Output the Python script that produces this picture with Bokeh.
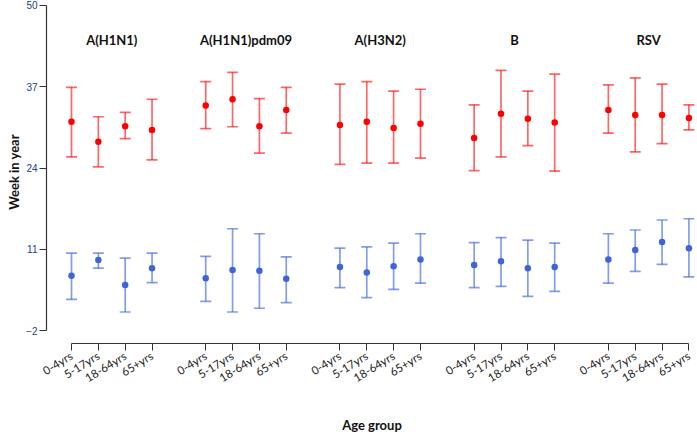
import numpy as np
from bokeh.plotting import figure
from bokeh.models import ColumnDataSource, Whisker, TeeHead, FixedTicker, Range1d
from bokeh.core.properties import value
from bokeh.embed import file_html
from bokeh.resources import INLINE

groups = ["A(H1N1)", "A(H1N1)pdm09", "A(H3N2)", "B", "RSV"]
ages = ["0-4yrs", "5-17yrs", "18-64yrs", "65+yrs"]
y_ticks = [-2, 11, 24, 37, 50]

# red series (upper cluster): estimate, lower and upper bound, per group x age
red_mid = [31.4, 28.2, 30.7, 30.1,
           34.0, 35.0, 30.7, 33.3,
           30.9, 31.4, 30.4, 31.1,
           28.8, 32.7, 31.9, 31.3,
           33.3, 32.5, 32.5, 32.0]
red_low = [25.8, 24.2, 28.7, 25.3,
           30.3, 30.6, 26.4, 29.6,
           24.6, 24.8, 24.8, 25.6,
           23.6, 25.8, 27.6, 23.5,
           29.6, 26.6, 27.9, 30.1]
red_high = [36.9, 32.2, 32.9, 35.0,
            37.8, 39.3, 35.1, 36.9,
            37.4, 37.8, 36.3, 36.6,
            34.1, 39.6, 36.3, 39.0,
            37.3, 38.4, 37.4, 34.1]

# blue series (lower cluster)
blue_mid = [6.8, 9.3, 5.3, 8.0,
            6.4, 7.7, 7.6, 6.3,
            8.2, 7.3, 8.3, 9.4,
            8.5, 9.1, 8.0, 8.2,
            9.4, 10.9, 12.2, 11.2]
blue_low = [3.0, 8.0, 1.0, 5.7,
            2.7, 1.0, 1.6, 2.5,
            4.9, 3.3, 4.6, 5.6,
            4.9, 5.1, 3.5, 4.3,
            5.6, 7.5, 8.6, 6.6]
blue_high = [10.4, 10.4, 9.6, 10.4,
             9.9, 14.3, 13.5, 9.8,
             11.2, 11.4, 12.0, 13.5,
             12.1, 12.9, 12.5, 12.0,
             13.5, 14.1, 15.7, 15.9]

# x positions: four ages per group, one empty slot between groups
na = len(ages)
xs = [gi * (na + 1) + ai + 1 for gi in range(len(groups)) for ai in range(na)]
xlabels = [ages[ai] for gi in range(len(groups)) for ai in range(na)]
gcenters = [float(np.mean(xs[gi * na:(gi + 1) * na])) for gi in range(len(groups))]

p = figure(width=697, height=435, output_backend="svg", toolbar_location=None,
           x_range=Range1d(0.0686, 24.32), y_range=Range1d(-4.036, 50.78),
           min_border_left=46, min_border_right=0, min_border_top=0,
           min_border_bottom=85)
p.outline_line_color = None
p.xgrid.visible = False
p.ygrid.visible = False
p.background_fill_color = "white"
p.border_fill_color = "white"

red_src = ColumnDataSource(dict(x=xs, mid=red_mid, low=red_low, high=red_high))
blue_src = ColumnDataSource(dict(x=xs, mid=blue_mid, low=blue_low, high=blue_high))

def add_series(src, bar_color, bar_alpha, pt_color):
    w = Whisker(source=src, base="x", upper="high", lower="low",
                line_color=bar_color, line_alpha=bar_alpha, line_width=1.7,
                upper_head=TeeHead(size=11, line_color=bar_color, line_alpha=bar_alpha, line_width=1.7),
                lower_head=TeeHead(size=11, line_color=bar_color, line_alpha=bar_alpha, line_width=1.7))
    p.add_layout(w)
    p.scatter("x", "mid", source=src, size=6.5, fill_color=pt_color, line_color=None)

add_series(red_src, "#FF0000", 0.6, "#FF0000")
add_series(blue_src, "#4169E1", 0.65, "#3D63DD")

# group titles
title_y = 44.52
p.text(x=gcenters, y=[title_y] * len(groups), text=groups,
       text_font=value("Lato"), text_font_size="13px", text_font_style="bold",
       text_align="center", text_baseline="middle", text_color="#111111")

# axes
xa = p.xaxis[0]
xa.ticker = FixedTicker(ticks=xs)
xa.major_label_overrides = {x: l for x, l in zip(xs, xlabels)}
xa.bounds = (1, 24)
xa.major_label_orientation = 0.55
xa.major_tick_out = 7
xa.major_tick_in = 0
xa.minor_tick_line_color = None
xa.axis_line_color = "#333333"
xa.major_tick_line_color = "#333333"
xa.axis_line_width = 1.2
xa.major_label_text_font = "Lato"
xa.major_label_text_font_size = "11.5px"
xa.major_label_text_color = "#222222"
xa.major_label_standoff = 4
xa.axis_label = "Age group"
xa.axis_label_text_font = "Lato"
xa.axis_label_text_font_style = "bold"
xa.axis_label_text_font_size = "13px"
xa.axis_label_text_color = "#111111"
xa.axis_label_standoff = 24

ya = p.yaxis[0]
ya.ticker = FixedTicker(ticks=y_ticks)
ya.bounds = (-2, 50)
ya.major_tick_out = 7
ya.major_tick_in = 0
ya.minor_tick_line_color = None
ya.axis_line_color = "#333333"
ya.major_tick_line_color = "#333333"
ya.axis_line_width = 1.2
ya.major_label_text_font = "Liberation Sans"
ya.major_label_text_font_size = "10px"
ya.major_label_text_color = "#23408E"
ya.major_label_standoff = 2
ya.axis_label = "Week in year"
ya.axis_label_text_font = "Lato"
ya.axis_label_text_font_style = "bold"
ya.axis_label_text_font_size = "13px"
ya.axis_label_text_color = "#111111"
ya.axis_label_standoff = 1

open("out.html", "w").write(file_html(p, INLINE))
